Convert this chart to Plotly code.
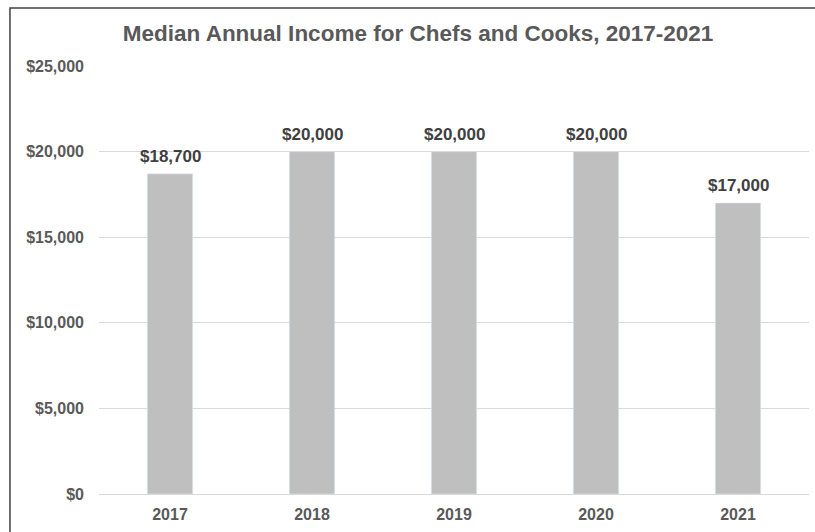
import plotly.graph_objects as go

years = ["2017", "2018", "2019", "2020", "2021"]
income = [18700, 20000, 20000, 20000, 17000]
y_ticks = [0, 5000, 10000, 15000, 20000, 25000]
y_tick_labels = ["$0", "$5,000", "$10,000", "$15,000", "$20,000", "$25,000"]

FONT = "Liberation Sans, Arial, sans-serif"

fig = go.Figure()
fig.add_trace(go.Bar(
    x=years,
    y=income,
    width=0.32,
    marker=dict(color="#bfbfbf"),
    hoverinfo="skip",
))

# value labels above each bar (category axis positions are 0..n-1)
for i, val in enumerate(income):
    fig.add_annotation(
        x=i, y=val, xref="x", yref="y",
        text=f"<b>${val:,}</b>",
        showarrow=False, yanchor="bottom", yshift=6,
        font=dict(family=FONT, size=17, color="#404040"),
    )

# outer chart frame
fig.add_shape(
    type="rect", xref="paper", yref="paper",
    x0=-0.1254, x1=1.05, y0=-0.3, y1=1.1355,
    line=dict(color="#404040", width=1.5),
)

fig.update_layout(
    width=815, height=532,
    margin=dict(l=99, r=6, t=66, b=38),
    paper_bgcolor="white", plot_bgcolor="white",
    showlegend=False,
    title=dict(
        text="<b>Median Annual Income for Chefs and Cooks, 2017-2021</b>",
        x=418 / 815, xanchor="center", y=1 - 33 / 532, yanchor="middle",
        font=dict(family=FONT, size=22.5, color="#595959"),
    ),
    xaxis=dict(
        type="category", range=[-0.5, 4.5], autorange=False,
        tickvals=years, ticktext=[f"<b>{y}</b>" for y in years],
        showgrid=False, zeroline=False, showline=False, ticks="",
        ticklabelstandoff=9,
        tickfont=dict(family=FONT, size=16, color="#595959"),
    ),
    yaxis=dict(
        range=[0, 25000], autorange=False,
        tickvals=y_ticks, ticktext=[f"<b>{t}</b>" for t in y_tick_labels],
        showgrid=True, gridcolor="#d9d9d9", gridwidth=1,
        zeroline=True, zerolinecolor="#d9d9d9", zerolinewidth=1,
        showline=False, ticks="", ticklabelstandoff=14,
        tickfont=dict(family=FONT, size=16, color="#595959"),
    ),
)

fig.write_html("out.html")
